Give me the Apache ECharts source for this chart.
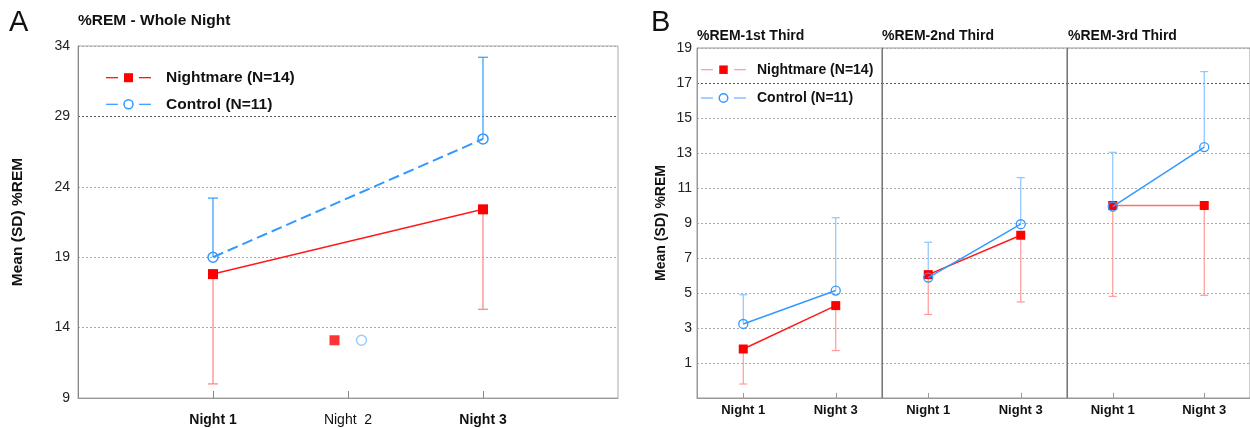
<!DOCTYPE html>
<html><head><meta charset="utf-8">
<script src="https://cdn.jsdelivr.net/npm/echarts@6/dist/echarts.min.js"></script>
<style>html,body{margin:0;padding:0;background:#fff}#c{width:1250px;height:428px}</style>
</head><body><div id="c"></div>
<script>
const FONT = '"Liberation Sans", Arial, sans-serif';
// ---------- Panel A : whole night ----------
const nightsA = ['Night 1', 'Night 2', 'Night 3'];
const nightPosA = [1, 2, 3];
const nmMeanA = [[1, 17.8], [3, 22.4]];
const ctMeanA = [[1, 19.0], [3, 27.4]];
const nmLowA = [10.0, 15.3];      // mean - SD (lower whisker)
const ctHighA = [23.2, 33.2];     // mean + SD (upper whisker)
const nmNight2A = [[1.9, 13.1]];
const ctNight2A = [[2.1, 13.1]];
// ---------- Panel B : thirds ----------
const nightsB = ['Night 1', 'Night 3'];
const thirds = ['%REM-1st Third', '%REM-2nd Third', '%REM-3rd Third'];
const nmMeanB = [[1.8, 4.28], [6.05, 8.3], [10.0, 10.0]];
const ctMeanB = [[3.23, 5.14], [5.88, 8.93], [9.94, 13.34]];
const nmLowB = [[-0.2, 1.71], [3.77, 4.49], [4.81, 4.87]];
const ctHighB = [[4.9, 9.3], [7.9, 11.59], [13.04, 17.65]];
const legendNames = ['Nightmare (N=14)', 'Control (N=11)'];

const RED = '#ff0000', BLUE = '#3399ff';

function errRender(capHalf, color) {
  return function (params, api) {
    const x = api.value(0), y0 = api.value(1), y1 = api.value(2);
    const p0 = api.coord([x, y0]), p1 = api.coord([x, y1]);
    return { type: 'group', children: [
      { type: 'line', shape: { x1: p0[0], y1: p0[1], x2: p1[0], y2: p1[1] }, style: { stroke: color, lineWidth: 1.2 } },
      { type: 'line', shape: { x1: p1[0] - capHalf, y1: p1[1], x2: p1[0] + capHalf, y2: p1[1] }, style: { stroke: color, lineWidth: 1.2 } }
    ]};
  };
}

const grids = [
  { left: 78, top: 46, width: 540, height: 352, show: true, borderColor: '#aaa', borderWidth: 1 },
  { left: 697, top: 48, width: 185, height: 350, show: true, borderColor: '#999', borderWidth: 1 },
  { left: 882, top: 48, width: 185, height: 350, show: true, borderColor: '#999', borderWidth: 1 },
  { left: 1067, top: 48, width: 185, height: 350, show: true, borderColor: '#999', borderWidth: 1 }
];

const dotted = (colors) => ({ show: true, lineStyle: { color: colors, width: 1, type: [2, 2] } });

const xAxes = [{
  type: 'value', gridIndex: 0, min: 0, max: 4,
  axisLine: { show: true, onZero: false, lineStyle: { color: '#999' } },
  axisTick: { show: true, inside: true, length: 7, customValues: nightPosA, lineStyle: { color: '#888' } },
  axisLabel: {
    customValues: nightPosA, margin: 15,
    formatter: v => { const t = nightsA[nightPosA.indexOf(v)]; return v === 2 ? '{n|' + t.replace(' ', '  ') + '}' : '{b|' + t + '}'; },
    rich: {
      b: { fontFamily: FONT, fontSize: 14, fontWeight: 'bold', color: '#111' },
      n: { fontFamily: FONT, fontSize: 14, fontWeight: 'normal', color: '#111' }
    }
  },
  splitLine: { show: false }
}];
const yAxes = [{
  type: 'value', gridIndex: 0, min: 9, max: 34, interval: 5,
  axisLine: { show: true, onZero: false, lineStyle: { color: '#888' } },
  axisTick: { show: false },
  axisLabel: { fontFamily: FONT, fontSize: 14, color: '#222', margin: 8 },
  splitLine: dotted(['#aaa', '#aaa', '#aaa', '#aaa', '#555', '#aaa']),
  name: 'Mean (SD) %REM', nameLocation: 'middle', nameGap: 52,
  nameTextStyle: { fontFamily: FONT, fontSize: 15.5, fontWeight: 'bold', color: '#111' }
}];
for (let i = 0; i < 3; i++) {
  xAxes.push({
    type: 'category', gridIndex: i + 1, data: nightsB, boundaryGap: true,
    axisLine: { show: true, onZero: false, lineStyle: { color: '#999' } },
    axisTick: { show: true, inside: true, alignWithLabel: true, length: 5, lineStyle: { color: '#999' } },
    axisLabel: { fontFamily: FONT, fontSize: 13, fontWeight: 'bold', color: '#111', margin: 6 },
    splitLine: { show: false }
  });
  const cols = new Array(11).fill('#aaa'); cols[9] = '#555';
  yAxes.push({
    type: 'value', gridIndex: i + 1, min: -1, max: 19, interval: 2,
    axisLine: { show: true, onZero: false, lineStyle: { color: i === 0 ? '#999' : '#777' } },
    axisTick: { show: false },
    axisLabel: { show: i === 0, showMinLabel: false, fontFamily: FONT, fontSize: 14, color: '#222', margin: 5 },
    splitLine: dotted(cols),
    name: i === 0 ? 'Mean (SD) %REM' : '', nameLocation: 'middle', nameGap: 29,
    nameTextStyle: { fontFamily: FONT, fontSize: 14, fontWeight: 'bold', color: '#111' }
  });
}

const series = [];
// Panel A error bars
series.push({ type: 'custom', xAxisIndex: 0, yAxisIndex: 0, z: 1, renderItem: errRender(5, '#ff8080'),
  encode: { x: 0, y: [1, 2] }, data: nmMeanA.map((p, k) => [p[0], p[1], nmLowA[k]]) });
series.push({ type: 'custom', xAxisIndex: 0, yAxisIndex: 0, z: 1, renderItem: errRender(5, BLUE),
  encode: { x: 0, y: [1, 2] }, data: ctMeanA.map((p, k) => [p[0], p[1], ctHighA[k]]) });
series.push({ type: 'line', name: legendNames[0], xAxisIndex: 0, yAxisIndex: 0, z: 3, data: nmMeanA,
  symbol: 'rect', symbolSize: 10, itemStyle: { color: RED }, lineStyle: { color: '#ff1a1a', width: 1.5 } });
series.push({ type: 'line', name: legendNames[1], xAxisIndex: 0, yAxisIndex: 0, z: 4, data: ctMeanA,
  symbol: 'circle', symbolSize: 10, itemStyle: { color: 'rgba(255,255,255,0)', borderColor: BLUE, borderWidth: 1.5 },
  lineStyle: { color: BLUE, width: 2, type: [11, 5] } });
series.push({ type: 'scatter', xAxisIndex: 0, yAxisIndex: 0, z: 3, data: nmNight2A,
  symbol: 'rect', symbolSize: 10, itemStyle: { color: RED } });
series.push({ type: 'scatter', xAxisIndex: 0, yAxisIndex: 0, z: 3, data: ctNight2A,
  symbol: 'circle', symbolSize: 10, itemStyle: { color: '#fff', borderColor: '#80bfff', borderWidth: 1.5 } });
// Panel B
for (let i = 0; i < 3; i++) {
  const ax = i + 1;
  series.push({ type: 'custom', xAxisIndex: ax, yAxisIndex: ax, z: 1, renderItem: errRender(4, '#ff9999'),
    encode: { x: 0, y: [1, 2] }, data: nmMeanB[i].map((v, k) => [k, v, nmLowB[i][k]]) });
  series.push({ type: 'custom', xAxisIndex: ax, yAxisIndex: ax, z: 1, renderItem: errRender(4, '#8cc6ff'),
    encode: { x: 0, y: [1, 2] }, data: ctMeanB[i].map((v, k) => [k, v, ctHighB[i][k]]) });
  series.push({ type: 'line', name: legendNames[0], xAxisIndex: ax, yAxisIndex: ax, z: 3, data: nmMeanB[i],
    symbol: 'rect', symbolSize: 9, itemStyle: { color: RED }, lineStyle: { color: i === 2 ? '#ff7070' : '#ff1a1a', width: 1.5 } });
  series.push({ type: 'line', name: legendNames[1], xAxisIndex: ax, yAxisIndex: ax, z: 4, data: ctMeanB[i],
    symbol: 'circle', symbolSize: 9, itemStyle: { color: 'rgba(255,255,255,0)', borderColor: BLUE, borderWidth: 1.3 },
    lineStyle: { color: BLUE, width: 1.5 } });
}

const tf = { fontFamily: FONT, fontWeight: 'bold', color: '#111' };
const titles = [
  { text: '%REM - Whole Night', left: 78, top: 12, padding: 0, textStyle: Object.assign({ fontSize: 15.5, lineHeight: 18 }, tf) }
];
[697, 882, 1068].forEach((x, i) => titles.push({ text: thirds[i], left: x, top: 28, padding: 0,
  textStyle: Object.assign({ fontSize: 14, lineHeight: 16 }, tf) }));

function legendRow(x0, y, isCtrl, lineCol, symCol, size, textX, fs, txt) {
  const els = [
    { type: 'line', shape: { x1: x0, y1: y, x2: x0 + 12, y2: y }, style: { stroke: lineCol, lineWidth: 1.2 } },
    { type: 'line', shape: { x1: x0 + 33, y1: y, x2: x0 + 45, y2: y }, style: { stroke: lineCol, lineWidth: 1.2 } }
  ];
  if (isCtrl) els.push({ type: 'circle', shape: { cx: x0 + 22.5, cy: y, r: size / 2 }, style: { fill: '#fff', stroke: symCol, lineWidth: 1.5 } });
  else els.push({ type: 'rect', shape: { x: x0 + 22.5 - size / 2, y: y - size / 2, width: size, height: size }, style: { fill: symCol } });
  els.push({ type: 'text', x: textX, y: y, style: { text: txt, fontFamily: FONT, fontSize: fs, fontWeight: 'bold', fill: '#111', verticalAlign: 'middle', align: 'left' } });
  return els;
}

const graphic = [].concat(
  [{ type: 'text', x: 9, y: 23, style: { text: 'A', fontFamily: FONT, fontSize: 29, fill: '#111', verticalAlign: 'middle' } },
   { type: 'text', x: 651, y: 23, style: { text: 'B', fontFamily: FONT, fontSize: 29, fill: '#111', verticalAlign: 'middle' } }],
  legendRow(106, 77.7, false, RED, RED, 9, 166, 15.5, legendNames[0]),
  legendRow(106, 104.3, true, BLUE, BLUE, 9, 166, 15.5, legendNames[1]),
  legendRow(701, 69.7, false, '#ff9999', RED, 8.5, 757, 14, legendNames[0]),
  legendRow(701, 98, true, '#66b3ff', BLUE, 8.5, 757, 14, legendNames[1])
);

const chart = echarts.init(document.getElementById('c'));
chart.setOption({
  animation: false, backgroundColor: '#fff',
  title: titles, grid: grids, xAxis: xAxes, yAxis: yAxes, series: series, graphic: graphic
});
</script></body></html>
